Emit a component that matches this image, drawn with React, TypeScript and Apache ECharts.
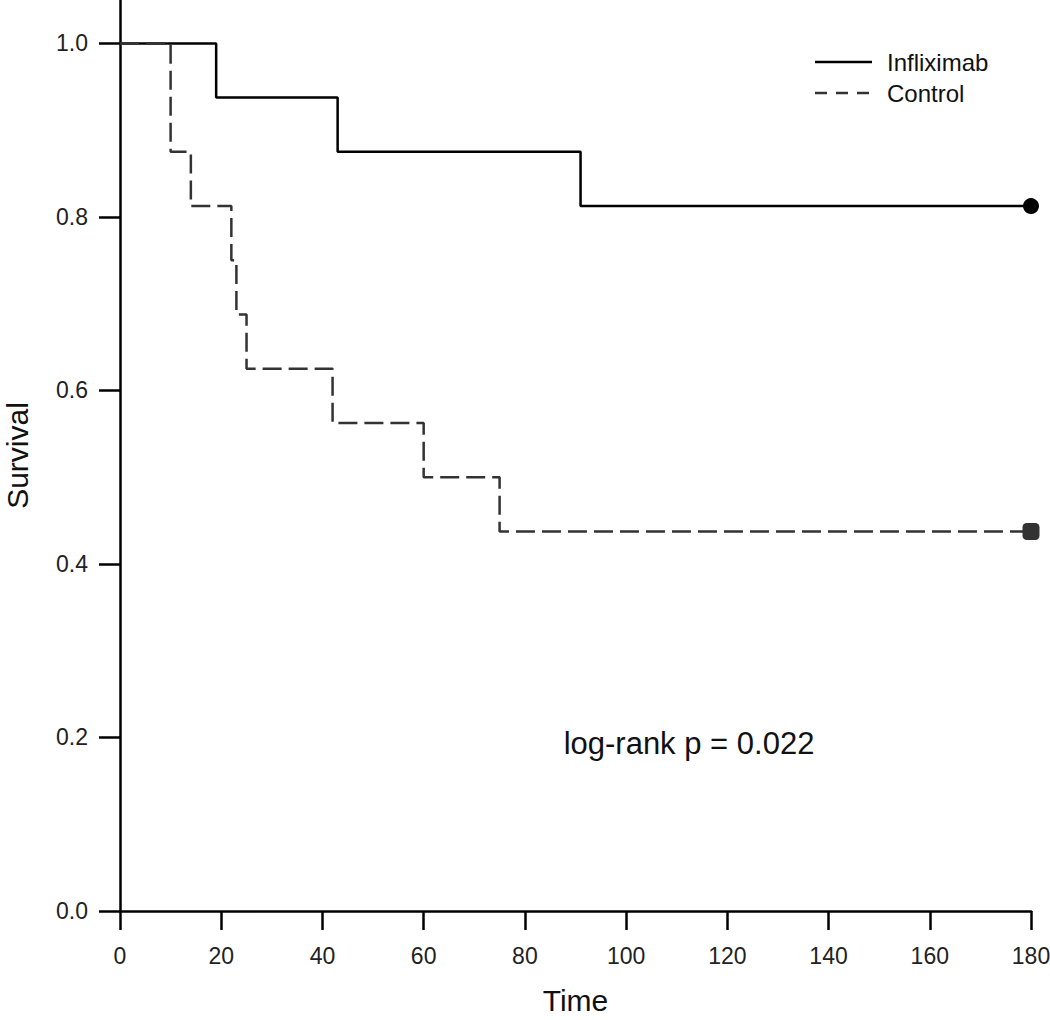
import React, { useEffect, useRef } from "react";
import * as echarts from "echarts";

const infliximabTimes = [0, 19, 43, 91, 180];
const infliximabSurvival = [1.0, 0.9375, 0.875, 0.8125, 0.8125];
const controlTimes = [0, 10, 14, 22, 23, 25, 42, 60, 75, 180];
const controlSurvival = [1.0, 0.875, 0.8125, 0.75, 0.6875, 0.625, 0.5625, 0.5, 0.4375, 0.4375];
const xTicks = [0, 20, 40, 60, 80, 100, 120, 140, 160, 180];
const yTicks = [0, 0.2, 0.4, 0.6, 0.8, 1.0];
const seriesNames = ["Infliximab", "Control"];
const annotation = "log-rank p = 0.022";

const FONT = "'Liberation Sans', Arial, Helvetica, sans-serif";

export default function App() {
  const ref = useRef<HTMLDivElement>(null);
  useEffect(() => {
    if (!ref.current) return;
    const chart = echarts.init(ref.current, undefined, { renderer: "svg" });
    const inf = infliximabTimes.map((t, i) => [t, infliximabSurvival[i]]);
    const ctl = controlTimes.map((t, i) => [t, controlSurvival[i]]);
    const lastInf = inf[inf.length - 1];
    const lastCtl = ctl[ctl.length - 1];
    chart.setOption({
      animation: false,
      backgroundColor: "#ffffff",
      grid: { left: 120, right: 19, top: 0, bottom: 109, containLabel: false, outerBoundsMode: "none" },
      xAxis: {
        type: "value",
        min: 0,
        max: 180,
        interval: 20,
        name: "Time",
        nameLocation: "middle",
        nameGap: 74,
        nameTextStyle: { fontFamily: FONT, fontSize: 30, color: "#111" },
        axisLine: { show: true, onZero: false, lineStyle: { color: "#000", width: 2.5 } },
        axisTick: { show: true, length: 19, lineStyle: { color: "#000", width: 2.5 }, customValues: xTicks },
        axisLabel: { fontFamily: FONT, fontSize: 23, color: "#222", margin: 33, customValues: xTicks },
        splitLine: { show: false },
      },
      yAxis: {
        type: "value",
        min: 0,
        max: 1.05,
        name: "Survival",
        nameLocation: "middle",
        nameGap: 88,
        nameRotate: 90,
        nameTextStyle: { fontFamily: FONT, fontSize: 30, color: "#111" },
        axisLine: { show: true, onZero: false, lineStyle: { color: "#000", width: 2.5 } },
        axisTick: { show: true, length: 21, lineStyle: { color: "#000", width: 2.5 }, customValues: yTicks },
        axisLabel: {
          fontFamily: FONT,
          fontSize: 23,
          color: "#222",
          margin: 32,
          customValues: yTicks,
          formatter: (v: number) => v.toFixed(1),
        },
        splitLine: { show: false },
      },
      series: [
        {
          name: seriesNames[0],
          type: "line",
          step: "end",
          data: inf,
          showSymbol: false,
          symbol: "none",
          lineStyle: { color: "#000", width: 2.5 },
          markPoint: {
            symbol: "circle",
            symbolSize: 16,
            itemStyle: { color: "#000" },
            label: { show: false },
            data: [{ coord: lastInf }],
          },
        },
        {
          name: seriesNames[1],
          type: "line",
          step: "end",
          data: ctl,
          showSymbol: false,
          symbol: "none",
          lineStyle: { color: "#333", width: 2.5, type: [19, 7] },
          markPoint: {
            symbol: "roundRect",
            symbolSize: 17,
            itemStyle: { color: "#333" },
            label: { show: false },
            data: [{ coord: lastCtl }],
          },
        },
      ],
      graphic: [
        {
          type: "line",
          shape: { x1: 815, y1: 62, x2: 872, y2: 62 },
          style: { stroke: "#000", lineWidth: 2.5 },
        },
        {
          type: "text",
          x: 887,
          y: 62,
          style: { text: seriesNames[0], font: `24px ${FONT}`, fill: "#111", textVerticalAlign: "middle" },
        },
        {
          type: "line",
          shape: { x1: 815, y1: 93, x2: 872, y2: 93 },
          style: { stroke: "#333", lineWidth: 2.5, lineDash: [12, 9] },
        },
        {
          type: "text",
          x: 887,
          y: 93,
          style: { text: seriesNames[1], font: `24px ${FONT}`, fill: "#111", textVerticalAlign: "middle" },
        },
        {
          type: "text",
          x: 689,
          y: 743,
          style: {
            text: annotation,
            font: `31px ${FONT}`,
            fill: "#111",
            textAlign: "center",
            textVerticalAlign: "middle",
          },
        },
      ],
    });
    return () => chart.dispose();
  }, []);
  return (
    <div
      ref={ref}
      style={{ position: "fixed", left: 0, top: 0, width: 1050, height: 1020, background: "#fff" }}
    />
  );
}
